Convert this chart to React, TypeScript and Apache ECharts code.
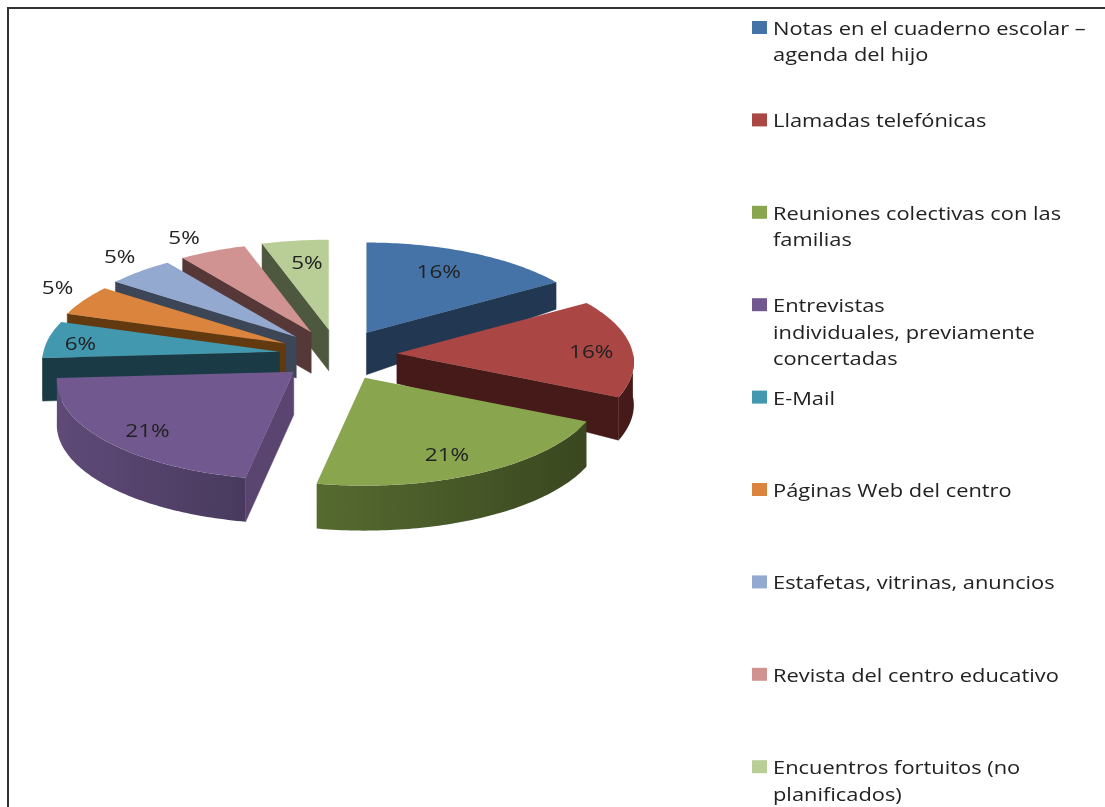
import React, { useEffect, useRef } from "react";
import * as echarts from "echarts";

const categories = [
  "Notas en el cuaderno escolar –\nagenda del hijo",
  "Llamadas telefónicas",
  "Reuniones colectivas con las\nfamilias",
  "Entrevistas\nindividuales, previamente\nconcertadas",
  "E-Mail",
  "Páginas Web del centro",
  "Estafetas, vitrinas, anuncios",
  "Revista del centro educativo",
  "Encuentros fortuitos (no\nplanificados)",
];
const shares = [16, 16, 21, 21, 6, 5, 5, 5, 5];
const topColors = ["#4573A7", "#AA4643", "#89A54E", "#71588F", "#4198AF", "#DB843D", "#93A9CF", "#D19392", "#B9CD96"];
const cutColors = ["#223852", "#451A18", "#3A4520", "#5A4570", "#1A3A45", "#633A10", "#3C4657", "#573838", "#4E583F"];
const wallLeft = ["#223852", "#451A18", "#566B30", "#5F4A78", "#1A3A45", "#633A10", "#3C4657", "#573838", "#4E583F"];
const wallRight = ["#223852", "#451A18", "#3A4720", "#483A5E", "#1A3A45", "#633A10", "#3C4657", "#573838", "#4E583F"];
const apexDepths = [42, 30, 44, 43, 42, 41, 41, 41, 41];
const rimDepths = [27, 43, 45, 44, 43, 41, 41, 41, 41];
const labelReachX = [0.69, 0.83, 0.71, 0.78, 0.86, 1.13, 1.13, 1.29, 0.65];
const labelReachY = [0.77, 0.4, 0.8, 0.83, 0.69, 1.31, 1.23, 1.18, 0.76];

const FONT = '"Open Sans", sans-serif';
const STRETCH = 1.215;
const RAD = Math.PI / 180;
const total = shares.reduce((a, b) => a + b, 0);

function rimOffset(deg: number) {
  const s = Math.sin(deg * RAD);
  const y = -Math.cos(deg * RAD);
  return [236 * s * (1 + 0.09 * y), 99 * y * (1 + 0.09 * y)];
}

function renderSlice(params: any, api: any) {
  const i = params.dataIndex;
  const value = api.value(0);
  let before = 0;
  for (let k = 0; k < i; k++) before += shares[k];
  const a0 = (before / total) * 360;
  const a1 = a0 + (value / total) * 360;
  const mid = (a0 + a1) / 2;
  const ax = 338 + 59 * Math.sin(mid * RAD);
  const ay = 355 - 25.5 * Math.cos(mid * RAD);
  const z = Math.round(100 - 50 * Math.cos(mid * RAD)) * 5;
  const rim = (deg: number) => {
    const o = rimOffset(deg);
    return [ax + o[0], ay + o[1]];
  };
  const dA = apexDepths[i];
  const dR = rimDepths[i];
  const children: any[] = [];

  const cut = (deg: number) => {
    const r = rim(deg);
    children.push({
      type: "polygon",
      z2: z + 1,
      shape: { points: [[ax, ay], r, [r[0], r[1] + dR], [ax, ay + dA]] },
      style: { fill: cutColors[i], stroke: cutColors[i], lineWidth: 0.5 },
    });
  };
  if (a1 > 0 && a1 < 180) cut(a1);
  if (a0 > 180 && a0 < 360) cut(a0);

  const w0 = Math.max(a0, 90);
  const w1 = Math.min(a1, 270);
  if (w1 > w0) {
    const top: number[][] = [];
    for (let d = w0; d < w1; d += 1) top.push(rim(d));
    top.push(rim(w1));
    const bottom = top.map((p) => [p[0], p[1] + dR]).reverse();
    children.push({
      type: "polygon",
      z2: z + 2,
      shape: { points: top.concat(bottom) },
      style: {
        fill: new echarts.graphic.LinearGradient(0, 0, 1, 0, [
          { offset: 0, color: wallLeft[i] },
          { offset: 1, color: wallRight[i] },
        ]),
      },
    });
  }

  const face: number[][] = [[ax, ay]];
  for (let d = a0; d < a1; d += 1) face.push(rim(d));
  face.push(rim(a1));
  children.push({
    type: "polygon",
    z2: z + 3,
    shape: { points: face },
    style: { fill: topColors[i] },
  });

  const m = rimOffset(mid);
  children.push({
    type: "text",
    z2: 2000,
    x: ax + m[0] * labelReachX[i],
    y: ay + m[1] * labelReachY[i],
    scaleX: 1.25,
    style: {
      text: value + "%",
      align: "center",
      verticalAlign: "middle",
      font: `18px ${FONT}`,
      fill: "#222",
    },
  });
  return { type: "group", children };
}

export default function App() {
  const ref = useRef<HTMLDivElement>(null);
  useEffect(() => {
    document.body.style.margin = "0";
    const chart = echarts.init(ref.current!, null, { renderer: "svg" });
    const graphic: any[] = [
      {
        type: "rect",
        shape: { x: 8, y: 8, width: 1300, height: 1000 },
        style: { fill: "none", stroke: "#333", lineWidth: 2 },
      },
    ];
    categories.forEach((name, i) => {
      const cy = 28 + 92.4 * i;
      graphic.push({
        type: "rect",
        shape: { x: 752, y: cy - 7, width: 15, height: 13 },
        style: { fill: topColors[i] },
      });
      graphic.push({
        type: "text",
        x: 773,
        y: cy - 13,
        scaleX: STRETCH,
        style: {
          text: name,
          font: `18px ${FONT}`,
          lineHeight: 26.5,
          fill: "#222",
          align: "left",
          verticalAlign: "top",
        },
      });
    });
    chart.setOption({
      animation: false,
      backgroundColor: "#fff",
      graphic,
      series: [
        {
          type: "custom",
          coordinateSystem: "none",
          renderItem: renderSlice,
          data: shares.map((v, i) => ({ name: categories[i], value: [v] })),
          silent: true,
        },
      ],
    });
    return () => chart.dispose();
  }, []);
  return (
    <div
      ref={ref}
      style={{ position: "fixed", left: 0, top: 0, width: 1105, height: 807, filter: "blur(0.5px)" }}
    />
  );
}
